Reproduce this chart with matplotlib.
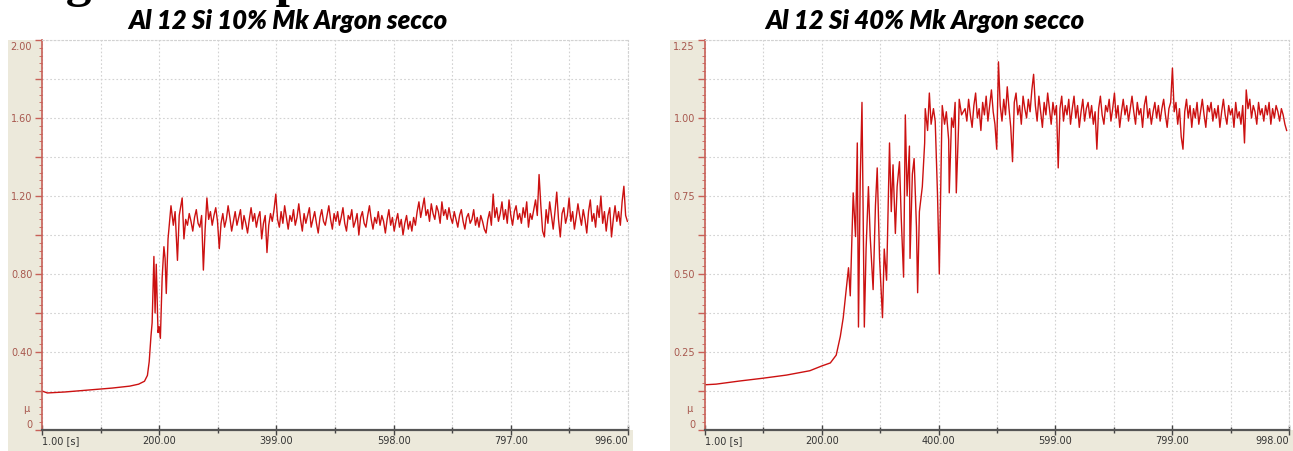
"""
Friction coefficient traces (mu vs time), Al 12 Si with 10% and 40% Mk in dry argon.
Two instrument-style panels side by side, saved to out.png.
"""

import matplotlib
matplotlib.use("Agg")
import matplotlib.pyplot as plt
import numpy as np
from matplotlib.patches import Rectangle
from matplotlib.ticker import FixedLocator, MultipleLocator

# ---- left panel: Al 12 Si 10% Mk -------------------------------------------
left_t_start = [1, 10, 40, 80, 120, 150, 165, 175, 180, 183, 186, 188, 191, 193,
                195, 198, 200, 202, 205, 208, 210, 212, 215, 219, 220, 224, 227,
                231, 234, 239, 242]
left_mu_start = [0.20, 0.19, 0.195, 0.205, 0.215, 0.225, 0.235, 0.25, 0.28, 0.35,
                 0.48, 0.55, 0.89, 0.60, 0.85, 0.50, 0.53, 0.47, 0.78, 0.94, 0.88,
                 0.70, 0.98, 1.12, 1.15, 1.05, 1.12, 0.87, 1.10, 1.19, 0.98]
# steady part, one reading every 3 s from 245 s to 995 s
left_mu_steady = [
    1.08, 1.05, 1.11, 1.07, 1.02, 1.09, 1.13, 1.06, 1.04, 1.10,
    0.82, 1.03, 1.19, 1.08, 1.12, 1.05, 1.10, 1.14, 1.07, 0.93,
    1.06, 1.11, 1.04, 1.08, 1.15, 1.09, 1.02, 1.07, 1.12, 1.05,
    1.09, 1.13, 1.03, 1.10, 1.06, 1.01, 1.08, 1.14, 1.07, 1.11,
    1.04, 1.09, 1.12, 0.98, 1.06, 1.10, 0.91, 1.05, 1.11, 1.07,
    1.13, 1.21, 1.08, 1.04, 1.12, 1.06, 1.15, 1.09, 1.03, 1.10,
    1.07, 1.13, 1.05, 1.09, 1.16, 1.08, 1.02, 1.11, 1.06, 1.10,
    1.14, 1.04, 1.08, 1.12, 1.06, 1.01, 1.09, 1.13, 1.07, 1.05,
    1.10, 1.15, 1.08, 1.03, 1.11, 1.07, 1.12, 1.05, 1.09, 1.14,
    1.06, 1.02, 1.10, 1.08, 1.13, 1.04, 1.07, 1.11, 1.00, 1.09,
    1.12, 1.06, 1.04, 1.10, 1.15, 1.08, 1.03, 1.09, 1.06, 1.12,
    1.05, 1.10, 1.07, 1.01, 1.08, 1.13, 1.05, 1.09, 1.02, 1.07,
    1.11, 1.04, 1.08, 1.00, 1.06, 1.10, 1.03, 1.07, 1.02, 1.09,
    1.05, 1.12, 1.17, 1.09, 1.14, 1.19, 1.10, 1.13, 1.07, 1.16,
    1.11, 1.08, 1.15, 1.12, 1.06, 1.17, 1.10, 1.13, 1.08, 1.14,
    1.09, 1.06, 1.12, 1.08, 1.04, 1.10, 1.13, 1.07, 1.03, 1.09,
    1.11, 1.06, 1.08, 1.13, 1.05, 1.09, 1.04, 1.10, 1.07, 1.03,
    1.01, 1.08, 1.12, 1.05, 1.21, 1.09, 1.14, 1.07, 1.11, 1.17,
    1.08, 1.13, 1.06, 1.18, 1.10, 1.05, 1.12, 1.15, 1.08, 1.11,
    1.06, 1.14, 1.09, 1.17, 1.04, 1.11, 1.08, 1.13, 1.18, 1.10,
    1.31, 1.15, 1.02, 0.99, 1.13, 1.06, 1.17, 1.10, 1.03, 1.12,
    1.22, 1.08, 0.99, 1.11, 1.14, 1.06, 1.10, 1.19, 1.07, 1.12,
    1.03, 1.09, 1.16, 1.10, 1.05, 1.13, 1.08, 1.01, 1.12, 1.18,
    1.07, 1.11, 1.04, 1.15, 1.09, 1.20, 1.06, 1.12, 1.02, 1.10,
    1.14, 0.99, 1.08, 1.15, 1.07, 1.12, 1.05, 1.17, 1.25, 1.10,
    1.07,
]
left_xlabels = ["1.00 [s]", "200.00", "399.00", "598.00", "797.00", "996.00"]
left_ylabels = ["0.40", "0.80", "1.20", "1.60"]

# ---- right panel: Al 12 Si 40% Mk ------------------------------------------
right_t_start = [1, 20, 60, 100, 140, 180, 200, 215, 225, 232, 237, 242, 246, 249,
                 254, 258, 261, 263, 266, 269, 273, 276, 280, 283, 288, 292, 295,
                 299, 304, 307, 311, 316, 319, 322, 326, 329, 333, 336, 340, 343,
                 346, 350, 351, 355, 358, 362, 364, 367, 372, 376, 377, 381, 384,
                 387, 391, 394, 398, 401, 405, 406, 410, 413, 417, 418, 422, 425,
                 428, 430, 434, 435, 439]
right_mu_start = [0.145, 0.147, 0.157, 0.166, 0.176, 0.19, 0.205, 0.215, 0.24, 0.30,
                  0.36, 0.45, 0.52, 0.43, 0.76, 0.62, 0.92, 0.33, 0.80, 1.05, 0.33,
                  0.58, 0.78, 0.62, 0.45, 0.72, 0.84, 0.55, 0.36, 0.58, 0.48, 0.92,
                  0.70, 0.85, 0.63, 0.78, 0.86, 0.68, 0.49, 1.01, 0.75, 0.91, 0.55,
                  0.82, 0.87, 0.65, 0.44, 0.70, 0.78, 0.92, 1.03, 0.96, 1.08, 0.98,
                  1.03, 0.99, 0.75, 0.50, 0.95, 1.04, 0.98, 1.02, 0.93, 0.76, 1.00,
                  0.97, 1.05, 0.76, 0.98, 1.06, 1.01]
# steady part, one reading every 3 s from 445 s to 994 s
right_mu_steady = [
    1.03, 0.99, 1.06, 1.01, 0.97, 1.04, 1.08, 1.00, 1.03, 0.96,
    1.05, 1.01, 1.07, 0.99, 1.04, 1.09, 1.02, 0.98, 0.90, 1.18,
    1.04, 0.99, 1.06, 1.01, 1.10, 1.03, 0.97, 0.86, 1.05, 1.08,
    1.01, 1.04, 0.98, 1.07, 1.03, 1.00, 1.06, 1.02, 1.09, 1.14,
    1.04, 0.99, 1.07, 1.02, 0.97, 1.05, 1.01, 1.08, 1.03, 0.98,
    1.05, 1.01, 1.04, 0.84, 1.03, 1.07, 0.99, 1.04, 1.01, 1.06,
    0.98, 1.03, 1.07, 1.00, 1.04, 0.97, 1.02, 1.06, 0.99, 1.03,
    1.05, 1.00, 1.04, 0.98, 1.02, 0.90, 1.03, 1.07, 1.01, 0.98,
    1.04, 1.02, 1.06, 0.99, 1.03, 1.08, 1.00, 1.04, 0.97, 1.02,
    1.06, 1.01, 1.04, 0.99, 1.03, 1.07, 1.02, 0.98, 1.05, 1.01,
    1.03, 0.97, 1.04, 1.07, 1.00, 1.03, 0.98, 1.02, 1.05, 1.00,
    1.04, 0.99, 1.03, 1.06, 1.01, 0.97, 1.03, 1.05, 1.16, 1.02,
    1.05, 0.98, 1.03, 0.94, 0.90, 1.02, 1.06, 1.00, 1.04, 0.97,
    1.03, 1.00, 1.05, 0.98, 1.02, 1.06, 1.01, 0.97, 1.04, 1.02,
    1.05, 0.99, 1.03, 1.00, 1.04, 0.97, 1.02, 1.06, 1.01, 0.98,
    1.04, 1.01, 1.03, 0.97, 1.05, 1.00, 1.02, 0.98, 1.04, 0.92,
    1.09, 1.03, 1.06, 1.00, 1.04, 1.02, 0.98, 1.05, 1.01, 1.03,
    0.99, 1.04, 1.01, 1.05, 0.98, 1.03, 1.00, 1.04, 1.02, 0.99,
    1.03, 1.01, 0.98, 0.96,
]
right_xlabels = ["1.00 [s]", "200.00", "400.00", "599.00", "799.00", "998.00"]
right_ylabels = ["0.25", "0.50", "0.75", "1.00"]

BEIGE = "#ece9db"
LINE_RED = "#cc1111"
AXIS_RED = "#c86058"
LABEL_RED = "#a8584e"
GRID = "#d2d2d2"
DOTS = (0, (1.5, 2.0))
W, H = 1293, 451


def steady_times(start, count, step=3):
    return [start + step * i for i in range(count)]


def beige_strips(fig, x_left, x_axis, x_right, y_top=40, y_axis=430):
    # left strip next to the value axis and bottom strip under the time axis
    for x0, x1, y0, y1 in ((x_left, x_axis, y_top, H), (x_left, x_right, y_axis, H)):
        fig.patches.append(Rectangle((x0 / W, (H - y1) / H), (x1 - x0) / W, (y1 - y0) / H,
                                     transform=fig.transFigure, color=BEIGE,
                                     linewidth=0, zorder=-5))


def draw_panel(fig, px_rect, t, mu, xmax, xlabels, ymax, ystep, ylabels, title, title_x):
    x0, x1, ytop, ybot = px_rect
    ax = fig.add_axes([x0 / W, (H - ybot) / H, (x1 - x0) / W, (ybot - ytop) / H])
    ax.set_zorder(2)
    ax.set_facecolor("white")
    ax.plot(t, mu, color=LINE_RED, linewidth=1.0)
    ax.set_xlim(1, xmax)
    ax.set_ylim(0, ymax)

    # x axis: labelled ticks plus a gridline half way between them
    ax.xaxis.set_major_locator(FixedLocator(np.linspace(1, xmax, 6)))
    ax.xaxis.set_minor_locator(FixedLocator(np.linspace(1, xmax, 11)))
    ax.set_xticklabels(xlabels, fontsize=7, color="#333333")
    labs = ax.get_xticklabels()
    labs[0].set_ha("left")
    labs[-1].set_ha("right")
    ax.tick_params(axis="x", which="major", direction="inout", length=7, width=1,
                   color="#444444", pad=1)
    ax.tick_params(axis="x", which="minor", direction="inout", length=5, width=1,
                   color="#444444")

    # y axis: gridline every step, label every second one, fine red ticks
    ax.yaxis.set_minor_locator(MultipleLocator(ystep / 5))
    yt = np.arange(0, ymax + ystep / 2, ystep)
    names = [""] * len(yt)
    for i, lab in enumerate(ylabels):
        names[2 * (i + 1)] = lab
    ax.set_yticks(yt)
    ax.set_yticklabels(names, fontsize=7, color=LABEL_RED)
    ax.tick_params(axis="y", which="major", direction="out", length=5, width=1,
                   color=AXIS_RED, pad=2)
    ax.tick_params(axis="y", which="minor", direction="out", length=2, width=0.6,
                   color=AXIS_RED)
    # end labels sit inside the axis range, like the instrument software
    tr = ax.get_yaxis_transform()
    ax.text(-0.017, ymax * 0.995, f"{ymax:.2f}", transform=tr, ha="right", va="top",
            fontsize=7, color=LABEL_RED)
    ax.text(-0.017, 0, "0", transform=tr, ha="right", va="bottom",
            fontsize=7, color=LABEL_RED)
    ax.text(-0.022, 0.055, "µ", transform=ax.transAxes, ha="right", va="center",
            fontsize=7, color=LABEL_RED)

    ax.xaxis.grid(True, which="both", color=GRID, linestyle=DOTS, linewidth=0.8)
    ax.yaxis.grid(True, which="major", color=GRID, linestyle=DOTS, linewidth=0.8)
    ax.set_axisbelow(True)

    ax.spines["left"].set_color(AXIS_RED)
    ax.spines["left"].set_linewidth(1.2)
    ax.spines["bottom"].set_color("#555555")
    ax.spines["bottom"].set_linewidth(1.6)
    for side in ("top", "right"):
        ax.spines[side].set_color(GRID)
        ax.spines[side].set_linestyle(DOTS)
        ax.spines[side].set_linewidth(0.8)

    fig.text(title_x / W, 1 - 21 / H, title, ha="center", va="center",
             fontsize=18.5, fontweight="heavy", fontstyle="italic", family="Lato")
    return ax


def main() -> None:
    fig = plt.figure(figsize=(W / 100, H / 100), dpi=100)
    fig.patch.set_facecolor("white")

    beige_strips(fig, 8, 42, 633)
    beige_strips(fig, 670, 705, 1293)

    # caption of the page above, cut off by the crop
    fig.text(20 / W, 1 + 4 / H, "Fig. 3 Esempio", ha="left", va="baseline",
             fontsize=37, fontweight="bold", family="Liberation Serif", color="black")

    lt = left_t_start + steady_times(245, len(left_mu_steady))
    lm = left_mu_start + left_mu_steady
    draw_panel(fig, (42, 628, 40, 430), lt, lm, 996, left_xlabels, 2.0, 0.2,
               left_ylabels, "Al 12 Si 10% Mk Argon secco", 288)

    rt = right_t_start + steady_times(445, len(right_mu_steady))
    rm = right_mu_start + right_mu_steady
    draw_panel(fig, (705, 1289, 40, 430), rt, rm, 998, right_xlabels, 1.25, 0.125,
               right_ylabels, "Al 12 Si 40% Mk Argon secco", 925)

    fig.savefig("out.png", dpi=100)
    plt.close(fig)


if __name__ == "__main__":
    main()
